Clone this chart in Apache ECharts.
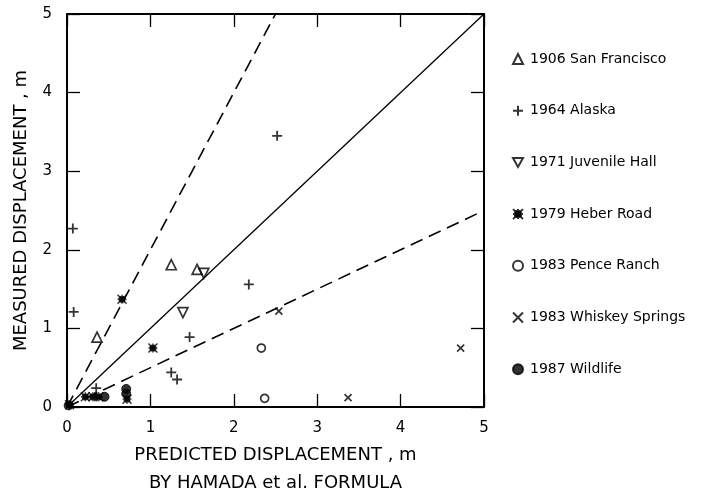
<!DOCTYPE html>
<html>
<head>
<meta charset="utf-8">
<script src="https://cdn.jsdelivr.net/npm/echarts@6/dist/echarts.min.js"></script>
<style>
  html, body { margin: 0; padding: 0; background: #fff; }
  #chart { width: 703px; height: 488px; }
</style>
</head>
<body>
<div id="chart"></div>
<script>
// Measured vs predicted lateral-spread displacement (m), by earthquake
const sanFrancisco1906 = [[1.25, 1.81], [1.56, 1.75], [0.36, 0.89]];
const alaska1964 = [[0.07, 2.27], [0.08, 1.21], [2.52, 3.45], [2.18, 1.56], [1.47, 0.89],
                    [1.25, 0.44], [1.32, 0.35], [0.35, 0.24]];
const juvenileHall1971 = [[1.39, 1.20], [1.64, 1.70]];
const heberRoad1979 = [[0.66, 1.37], [1.03, 0.75], [0.22, 0.13], [0.31, 0.13],
                       [0.38, 0.13], [0.72, 0.10], [0.03, 0.03]];
const penceRanch1983 = [[2.33, 0.75], [2.37, 0.11]];
const whiskeySprings1983 = [[2.54, 1.22], [3.37, 0.12], [4.72, 0.75]];
const wildlife1987 = [[0.45, 0.13], [0.71, 0.23], [0.71, 0.17], [0.02, 0.02]];

// Reference lines: 1:1 agreement, and factor-of-two bounds
const lineEqual = [[0, 0], [5, 5]];
const lineDouble = [[0, 0], [2.5, 5]];
const lineHalf = [[0, 0], [5, 2.5]];

const axisTicks = [0, 1, 2, 3, 4, 5];

const FONT = 'DejaVu Sans';
const INK = '#000';

const SYM_DOWN = 'path://M0,0 L10,0 L5,9 Z';
const SYM_PLUS = 'path://M5,0 L5,10 M0,5 L10,5';
const SYM_CROSS = 'path://M0,0 L10,10 M10,0 L0,10';
const SYM_STAR = 'path://M0,0 L10,10 M10,0 L0,10 M5,0 L5,10 M0,5 L10,5 M2,2 L8,2 L8,8 L2,8 Z';

function pointSeries(name, data, symbol, size, filled, bw) {
  return {
    name: name, type: 'scatter', data: data,
    symbol: symbol, symbolSize: size, xAxisIndex: 0, yAxisIndex: 0,
    itemStyle: {
      color: filled ? INK : 'rgba(255,255,255,0)',
      borderColor: INK, borderWidth: bw
    },
    emphasis: { disabled: true }, z: 5
  };
}

function refLine(data, dashed) {
  return {
    type: 'line', data: data, symbol: 'none', silent: true,
    xAxisIndex: 0, yAxisIndex: 0,
    lineStyle: { color: INK, width: dashed ? 1.6 : 1.3, type: dashed ? [13, 7] : 'solid' },
    z: 3
  };
}

const frameAxis = {
  min: 0, max: 5, interval: 1,
  axisLine: { show: true, onZero: false, lineStyle: { color: INK, width: 2 } },
  axisTick: { show: true, inside: true, length: 13, lineStyle: { color: INK, width: 1.3 } },
  splitLine: { show: false }
};

const legendNames = ['1906 San Francisco', '1964 Alaska', '1971 Juvenile Hall',
  '1979 Heber Road', '1983 Pence Ranch', '1983 Whiskey Springs', '1987 Wildlife'];

const chart = echarts.init(document.getElementById('chart'), null, { renderer: 'canvas' });
chart.setOption({
  animation: false,
  backgroundColor: '#fff',
  grid: { left: 67, right: 219, top: 14, bottom: 81, containLabel: false, outerBoundsMode: 'none' },
  textStyle: { fontFamily: FONT },
  legend: {
    data: legendNames,
    orient: 'vertical',
    left: 512, top: 52,
    padding: 0,
    itemWidth: 10, itemHeight: 10, itemGap: 37.7,
    textStyle: { fontFamily: FONT, fontSize: 14, color: INK, padding: [0, 0, 0, 2] },
    selectedMode: false
  },
  xAxis: [
    Object.assign({}, frameAxis, {
      type: 'value', position: 'bottom',
      axisLabel: {
        fontFamily: FONT, fontSize: 15, color: INK, margin: 14,
        formatter: v => axisTicks.includes(v) ? String(v) : ''
      },
      name: 'PREDICTED DISPLACEMENT , m\nBY HAMADA et al. FORMULA',
      nameLocation: 'middle', nameGap: 29,
      nameTextStyle: { fontFamily: FONT, fontSize: 18, color: INK, lineHeight: 28 }
    }),
    Object.assign({}, frameAxis, { type: 'value', position: 'top', axisLabel: { show: false } })
  ],
  yAxis: [
    Object.assign({}, frameAxis, {
      type: 'value', position: 'left',
      axisLabel: {
        fontFamily: FONT, fontSize: 15, color: INK, margin: 15,
        formatter: v => axisTicks.includes(v) ? String(v) : ''
      },
      name: 'MEASURED DISPLACEMENT , m',
      nameLocation: 'middle', nameGap: 37,
      nameTextStyle: { fontFamily: FONT, fontSize: 18, color: INK }
    }),
    Object.assign({}, frameAxis, { type: 'value', position: 'right', axisLabel: { show: false } })
  ],
  series: [
    refLine(lineEqual, false),
    refLine(lineDouble, true),
    refLine(lineHalf, true),
    pointSeries(legendNames[0], sanFrancisco1906, 'triangle', 10, false, 1.7),
    pointSeries(legendNames[1], alaska1964, SYM_PLUS, 10, false, 1.8),
    pointSeries(legendNames[2], juvenileHall1971, SYM_DOWN, 10, false, 1.7),
    pointSeries(legendNames[3], heberRoad1979, SYM_STAR, 9, true, 1.4),
    pointSeries(legendNames[4], penceRanch1983, 'circle', 8, false, 1.7),
    pointSeries(legendNames[5], whiskeySprings1983, SYM_CROSS, 7, false, 1.7),
    pointSeries(legendNames[6], wildlife1987, 'circle', 9, true, 1)
  ]
});
</script>
</body>
</html>
